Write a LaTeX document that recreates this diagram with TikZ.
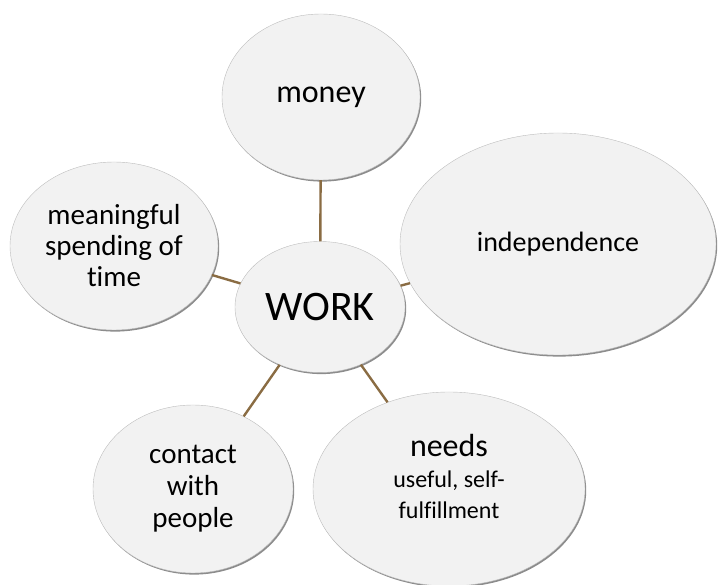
\documentclass[tikz,border=0pt]{standalone}
\usepackage{fontspec}
\setmainfont{Carlito}[Ligatures=NoCommon]
\usetikzlibrary{shapes.geometric,shadows}

\definecolor{bubblefill}{HTML}{F2F2F2}
\definecolor{bubbleedge}{HTML}{BDBDBD}
\definecolor{linkbrown}{HTML}{8A6C43}

\begin{document}
\begin{tikzpicture}[x=1pt, y=-1pt,
                    bubble/.style = {ellipse, fill=bubblefill, draw=bubbleedge, line width=0.4pt,
                                     inner sep=0pt, align=center,
                                     drop shadow={shadow xshift=1.2pt, shadow yshift=-1.6pt, fill=black, opacity=0.45},
                                     font=\fontsize{29}{31}\selectfont},
                    link/.style = {draw=linkbrown, line width=2.4pt}]
                    \useasboundingbox (0,0) rectangle (718,585);

                    \node[bubble, minimum width=170, minimum height=131, font=\fontsize{42}{46}\selectfont] (work) at (320,307) {WORK};
                    \node[bubble, minimum width=198, minimum height=166, font=\fontsize{32}{34}\selectfont] (money) at (321,97) {money};
                    \node[bubble, minimum width=208, minimum height=168] (time) at (114,246) {meaningful\\spending of\\time};
                    \node[bubble, minimum width=316, minimum height=222, font=\fontsize{28}{30}\selectfont] (indep) at (558,244) {independence};
                    \node[bubble, minimum width=272, minimum height=194] (needs) at (449,489)
                        {{\fontsize{32}{36}\selectfont needs}\\{\fontsize{24}{27}\selectfont useful, self-}\\{\fontsize{24}{27}\selectfont fulfillment\rule[-26pt]{0pt}{0pt}}};
                    \node[bubble, minimum width=200, minimum height=168, font=\fontsize{29}{32}\selectfont] (contact) at (193,489) {contact\\with\\people};

                    % spokes out of the centre
                    \draw[link] (work) -- (money);
                    \draw[link] (work) -- (time);
                    \draw[link] (work) -- (indep);
                    \draw[link] (work) -- (needs);
                    \draw[link] (work) -- (contact);
                \end{tikzpicture}
\end{document}
